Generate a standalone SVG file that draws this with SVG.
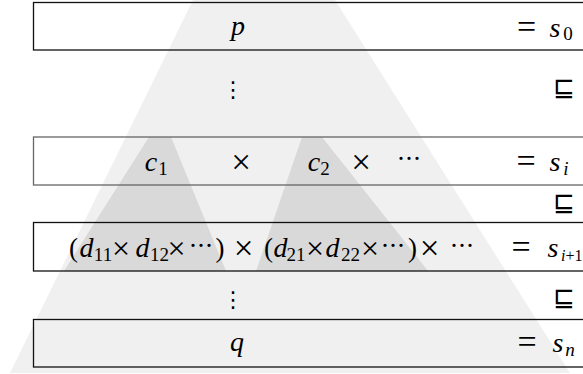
<svg xmlns="http://www.w3.org/2000/svg" width="583" height="374" viewBox="0 0 583 374">
<style>
.bg{fill:#ffffff}
.light{fill:#f0f0f0}
.dark{fill:#d9d9d9}
.box{fill:none;stroke:#111;stroke-width:1.3}
.box2{fill:none;stroke:#666;stroke-width:1.3}
.t{fill:#000;text-anchor:middle}
.v{font-style:italic;font-size:28px}
.n{font-size:27px}
.sub{font-size:19px}
.subi{font-size:19px;font-style:italic}
.op{font-size:35px}
.op3{font-size:32px}
.eq{font-size:34px}
.rel{font-size:26px}
.vd{font-size:22px}
</style>
<rect class="bg" x="0" y="0" width="583" height="374"/>
<g id="shading">
<polygon class="light" points="193,0 335,0 570,373 10,373"/>
<polygon class="dark" points="149,137 171,137 226,271 64,271"/>
<polygon class="dark" points="302,137 322,137 428,271 256,271"/>
</g>
<g id="node-s0" class="t" font-family="Liberation Serif, serif">
<rect class="box" x="33.5" y="2.5" width="570" height="47.5"/>
<text class="v" x="238" y="35">p</text>
<text class="eq" x="526.5" y="38">=</text>
<text class="v" x="555" y="37">s</text>
<text class="sub" x="568" y="40">0</text>
</g>
<g id="node-si" class="t" font-family="Liberation Serif, serif">
<rect class="box2" x="33.5" y="137" width="570" height="48"/>
<text class="v" x="151" y="171">c</text>
<text class="sub" x="163" y="175">1</text>
<text class="op" x="241" y="174">×</text>
<text class="v" x="314" y="171">c</text>
<text class="sub" x="325" y="175">2</text>
<text class="op" x="361" y="174">×</text>
<text class="n" x="401 409 417" y="168">···</text>
<text class="eq" x="526" y="172">=</text>
<text class="v" x="555" y="171">s</text>
<text class="subi" x="566" y="175">i</text>
</g>
<g id="node-si1" class="t" font-family="Liberation Serif, serif">
<rect class="box" x="33.5" y="222.5" width="570" height="48.5"/>
<text class="n" x="73.5" y="257">(</text>
<text class="v" x="86.5" y="257">d</text>
<text class="sub" x="103" y="261">11</text>
<text class="op3" x="121" y="259">×</text>
<text class="v" x="142.5" y="257">d</text>
<text class="sub" x="159.5" y="261">12</text>
<text class="op3" x="176.5" y="259">×</text>
<text class="n" x="193 201 209" y="255">···</text>
<text class="n" x="220" y="257">)</text>
<text class="op" x="243.5" y="260">×</text>
<text class="n" x="268.5" y="257">(</text>
<text class="v" x="280.5" y="257">d</text>
<text class="sub" x="296" y="261">21</text>
<text class="op3" x="315" y="259">×</text>
<text class="v" x="332.5" y="257">d</text>
<text class="sub" x="350.5" y="261">22</text>
<text class="op3" x="370" y="259">×</text>
<text class="n" x="385 393 401" y="255">···</text>
<text class="n" x="412.5" y="257">)</text>
<text class="op" x="429.5" y="260">×</text>
<text class="n" x="454 462 470" y="255">···</text>
<text class="eq" x="521" y="258">=</text>
<text class="v" x="553" y="257">s</text>
<text x="561" y="261" text-anchor="start" font-size="16"><tspan font-style="italic">i</tspan>+1</text>
</g>
<g id="node-sn" class="t" font-family="Liberation Serif, serif">
<rect class="box" x="33.5" y="319.5" width="570" height="47.5"/>
<text class="v" x="237" y="351">q</text>
<text class="eq" x="527" y="353">=</text>
<text class="v" x="558" y="352">s</text>
<text class="subi" x="570" y="356">n</text>
</g>
<g id="connectors" class="t" font-family="DejaVu Sans, sans-serif">
<text class="vd" x="233" y="97">⋮</text>
<text class="rel" x="564" y="96">⊑</text>
<text class="rel" x="564" y="211">⊑</text>
<text class="vd" x="233" y="307">⋮</text>
<text class="rel" x="564" y="306">⊑</text>
</g>
</svg>
